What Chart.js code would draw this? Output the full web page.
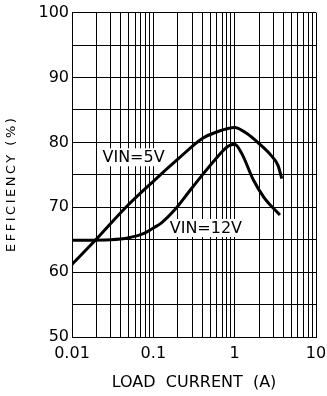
<!DOCTYPE html>
<html>
<head>
<meta charset="utf-8">
<script src="https://cdn.jsdelivr.net/npm/chart.js@4.4.1/dist/chart.umd.min.js"></script>
<style>
  html, body { margin: 0; padding: 0; background: #fff; }
  canvas { display: block; }
</style>
</head>
<body>
<canvas id="myChart" width="327" height="396"></canvas>
<script>
// load current (A) / efficiency (%)
const vin5Current = [0.01, 0.02, 0.046, 0.1, 0.2, 0.4, 0.6, 1.0, 1.4, 2.0, 2.8, 3.4, 3.8];
const vin5Eff = [61.2, 65.1, 70.0, 74.0, 77.4, 80.6, 81.6, 82.3, 81.4, 79.8, 78.0, 76.5, 74.4];
const vin12Current = [0.01, 0.03, 0.05, 0.078, 0.1, 0.126, 0.183, 0.267, 0.39, 0.57, 0.83, 1.0, 1.22, 1.7, 2.3, 3.6];
const vin12Eff = [64.9, 65.0, 65.3, 66.0, 66.8, 67.6, 69.6, 72.2, 74.8, 77.3, 79.4, 79.7, 78.3, 74.2, 71.5, 68.8];

const seriesNames = ["VIN=5V", "VIN=12V"];
const xTickLabels = ["0.01", "0.1", "1", "10"];
const yTickLabels = [50, 60, 70, 80, 90, 100];

// where the curve names sit (data coords, left edge / middle)
const namePos = [{ x: 0.0237, y: 77.7 }, { x: 0.159, y: 66.8 }];

const FONT = "DejaVu Sans";

function toPoints(xs, ys) {
  let pts = [];
  for (let i = 0; i < xs.length; i++) {
    pts.push({ x: xs[i], y: ys[i] });
  }
  return pts;
}

// grid lines at 1..9 of every decade
function logGrid(min, max) {
  let out = [];
  for (let d = min; d <= max * 1.0001; d *= 10) {
    for (let m = 1; m < 10; m++) {
      const v = +(d * m).toPrecision(3);
      if (v <= max * 1.0001) out.push(v);
    }
  }
  return out;
}

// draws the VIN=.. names with a white box behind them
const curveNames = {
  id: "curveNames",
  beforeDraw(chart) {
    // spread out the letters of the y title and nudge it down a bit
    const s = chart.scales.y;
    if (s && !s._spaced) {
      const orig = s.drawTitle;
      s.drawTitle = function () {
        const c = this.ctx;
        c.save();
        c.letterSpacing = "2.5px";
        c.translate(0, 9);
        orig.apply(this, arguments);
        c.restore();
      };
      s._spaced = true;
    }
  },
  beforeDatasetsDraw(chart) {
    const ctx = chart.ctx;
    const xs = chart.scales.x;
    const ys = chart.scales.y;
    ctx.save();
    ctx.font = "16px '" + FONT + "'";
    ctx.textAlign = "left";
    ctx.textBaseline = "middle";
    for (let i = 0; i < seriesNames.length; i++) {
      const px = xs.getPixelForValue(namePos[i].x);
      const py = ys.getPixelForValue(namePos[i].y);
      const w = ctx.measureText(seriesNames[i]).width;
      ctx.fillStyle = "#fff";
      ctx.fillRect(px - 2, py - 9, w + 4, 18);
      ctx.fillStyle = "#000";
      ctx.fillText(seriesNames[i], px, py + 1);
    }
    ctx.restore();
  },
};

const ctx = document.getElementById("myChart");
const lineStyle = {
  borderColor: "#000",
  borderWidth: 3,
  pointRadius: 0,
  fill: false,
  cubicInterpolationMode: "monotone",
};

const myChart = new Chart(ctx, {
  type: "line",
  data: {
    datasets: [
      Object.assign({ label: seriesNames[0], data: toPoints(vin5Current, vin5Eff) }, lineStyle),
      Object.assign({ label: seriesNames[1], data: toPoints(vin12Current, vin12Eff) }, lineStyle),
    ],
  },
  options: {
    responsive: false,
    animation: false,
    layout: { padding: { left: 0, right: 11, top: 12, bottom: 0 } },
    plugins: { legend: { display: false }, tooltip: { enabled: false } },
    scales: {
      x: {
        type: "logarithmic",
        min: 0.01,
        max: 10,
        afterBuildTicks: (scale) => {
          scale.ticks = logGrid(0.01, 10).map((v) => ({ value: v }));
        },
        afterFit: (scale) => {
          scale.height = 59;
          // let the layout padding alone decide the side margins
          scale.paddingLeft = 0;
          scale.paddingRight = 0;
        },
        ticks: {
          autoSkip: false,
          maxRotation: 0,
          color: "#000",
          padding: 7,
          font: { family: FONT, size: 16 },
          callback: (v) => {
            const lbl = String(+v.toPrecision(3));
            return xTickLabels.includes(lbl) ? lbl : "";
          },
        },
        grid: { color: "#000", lineWidth: 1, drawTicks: false },
        border: { color: "#000", width: 1 },
        title: {
          display: true,
          text: "LOAD  CURRENT  (A)",
          color: "#000",
          font: { family: FONT, size: 16 },
          padding: { top: 4, bottom: 4 },
        },
      },
      y: {
        min: 50,
        max: 100,
        ticks: {
          stepSize: 5,
          color: "#000",
          padding: 3,
          font: { family: FONT, size: 16 },
          callback: (v) => (yTickLabels.includes(v) ? String(v) : ""),
        },
        afterFit: (scale) => {
          scale.width = 72;
        },
        grid: { color: "#000", lineWidth: 1, drawTicks: false },
        border: { color: "#000", width: 1 },
        title: {
          display: true,
          text: "EFFICIENCY (%)",
          color: "#000",
          font: { family: FONT, size: 13 },
          padding: { top: 4, bottom: 0 },
        },
      },
    },
  },
  plugins: [curveNames],
});
</script>
</body>
</html>
